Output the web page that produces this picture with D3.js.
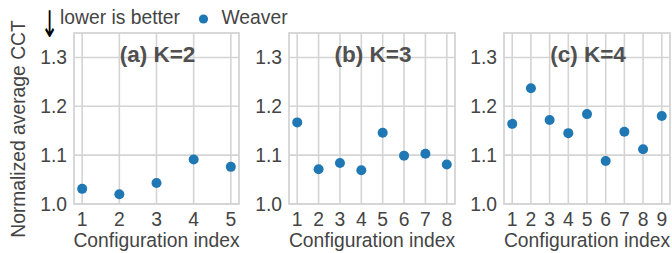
<!DOCTYPE html>
<html>
<head>
<meta charset="utf-8">
<script src="https://cdn.jsdelivr.net/npm/d3@7"></script>
<style>
  body { margin: 0; background: #fff; }
  svg { display: block; }
  text { font-family: "Liberation Sans", Arial, Helvetica, sans-serif; }
</style>
</head>
<body>
<script>
// normalized average CCT per configuration, one array per panel
var titles = ["(a) K=2", "(b) K=3", "(c) K=4"];
var k2_values = [1.031, 1.020, 1.043, 1.091, 1.076];
var k3_values = [1.167, 1.071, 1.084, 1.069, 1.146, 1.099, 1.103, 1.081];
var k4_values = [1.164, 1.237, 1.172, 1.145, 1.184, 1.088, 1.148, 1.112, 1.180];
var y_ticks = [1.0, 1.1, 1.2, 1.3];
var series_name = "Weaver";

var width = 672, height = 253;
var panels = [
    { title: titles[0], values: k2_values, x0: 74, x1: 239 },
    { title: titles[1], values: k3_values, x0: 289, x1: 455 },
    { title: titles[2], values: k4_values, x0: 504, x1: 670 }
];
var top_y = 33, bottom_y = 204;
var grid_color = "#d4d4d4";
var text_color = "#444";
var blue = "#1f77b4";
var font_size = "19.3px";

var svg = d3.select("body").append("svg")
    .attr("width", width)
    .attr("height", height);

var y = d3.scaleLinear().domain([1.0, 1.35]).range([bottom_y, top_y]);

panels.forEach(function(p) {
    var n = p.values.length;
    var pad = 0.055 * (n - 1);
    var x = d3.scaleLinear().domain([1 - pad, n + pad]).range([p.x0, p.x1]);
    var idx = d3.range(1, n + 1);
    var g = svg.append("g");

    // grid
    g.selectAll(".hgrid").data(y_ticks).enter().append("line")
        .attr("x1", p.x0).attr("x2", p.x1)
        .attr("y1", function(d) { return y(d); })
        .attr("y2", function(d) { return y(d); })
        .style("stroke", grid_color).style("stroke-width", 1.6);
    g.selectAll(".vgrid").data(idx).enter().append("line")
        .attr("x1", function(d) { return x(d); })
        .attr("x2", function(d) { return x(d); })
        .attr("y1", top_y).attr("y2", bottom_y)
        .style("stroke", grid_color).style("stroke-width", 1.6);

    // frame
    g.append("rect")
        .attr("x", p.x0).attr("y", top_y)
        .attr("width", p.x1 - p.x0).attr("height", bottom_y - top_y)
        .style("fill", "none").style("stroke", grid_color).style("stroke-width", 1.8);

    // y tick labels
    g.selectAll(".ylab").data(y_ticks).enter().append("text")
        .attr("x", p.x0 - 7)
        .attr("y", function(d) { return y(d); })
        .attr("dy", "0.36em")
        .attr("text-anchor", "end")
        .style("font-size", font_size).style("fill", text_color)
        .text(function(d) { return d3.format(".1f")(d); });

    // x tick labels
    g.selectAll(".xlab").data(idx).enter().append("text")
        .attr("x", function(d) { return x(d); })
        .attr("y", 226)
        .attr("text-anchor", "middle")
        .style("font-size", font_size).style("fill", text_color)
        .text(function(d) { return d; });

    g.append("text")
        .attr("x", (p.x0 + p.x1) / 2).attr("y", 246.5)
        .attr("text-anchor", "middle")
        .style("font-size", font_size).style("fill", text_color)
        .text("Configuration index");

    // title
    g.append("text")
        .attr("x", (p.x0 + p.x1) / 2 + 1).attr("y", 62)
        .attr("text-anchor", "middle")
        .style("font-size", "22.5px").style("font-weight", "bold").style("fill", "#505050")
        .text(p.title);

    // points
    g.selectAll(".pt").data(p.values).enter().append("circle")
        .attr("cx", function(d, i) { return x(i + 1); })
        .attr("cy", function(d) { return y(d); })
        .attr("r", 5)
        .style("fill", blue);
});

// y label
svg.append("text")
    .attr("transform", "translate(18,129) rotate(-90)")
    .attr("dy", "0.35em")
    .attr("text-anchor", "middle")
    .style("font-size", font_size).style("fill", text_color)
    .text("Normalized average CCT");

// legend row, the arrow glyph squeezed to look like the thin tall one
svg.append("text")
    .attr("transform", "translate(49.5,37) scale(0.7,1.22)")
    .attr("text-anchor", "middle")
    .style("font-family", "DejaVu Sans").style("font-size", "30px").style("fill", "#000")
    .text("↓");
svg.append("text")
    .attr("x", 60).attr("y", 24)
    .style("font-size", "19.3px").style("fill", text_color)
    .text("lower is better");
svg.append("circle")
    .attr("cx", 203.5).attr("cy", 19).attr("r", 4.6)
    .style("fill", blue);
svg.append("text")
    .attr("x", 221.5).attr("y", 24)
    .style("font-size", "19.3px").style("fill", text_color)
    .text(series_name);
</script>
</body>
</html>
